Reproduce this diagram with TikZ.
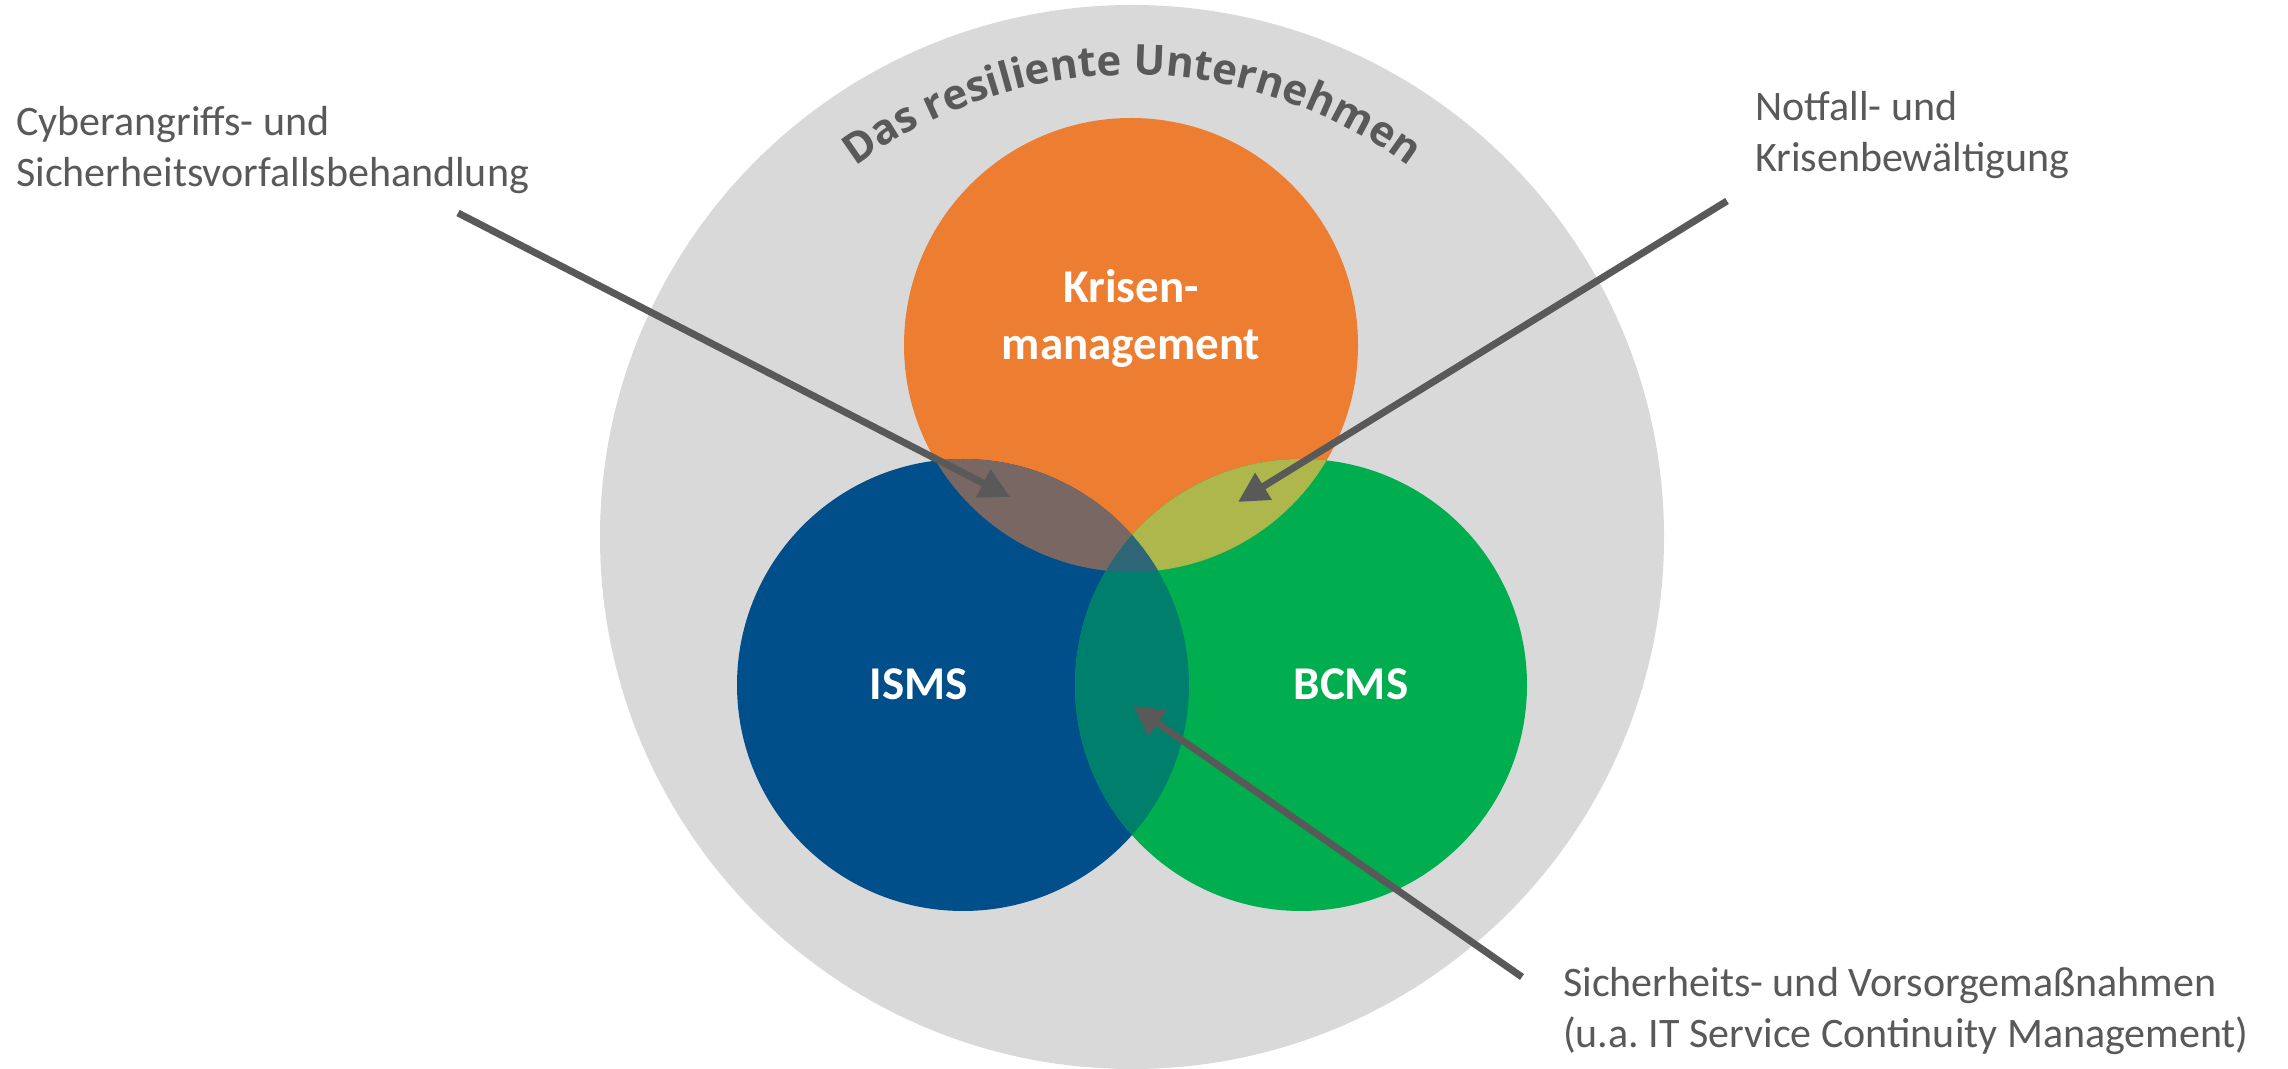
\documentclass[tikz,border=0pt]{standalone}
\usepackage{fontspec}
\setmainfont{Carlito}
\newfontfamily\titlefont{Open Sans}
\usetikzlibrary{decorations.text,arrows.meta}
\definecolor{bggray}{HTML}{D9D9D9}
\definecolor{tgray}{HTML}{595959}
\definecolor{corange}{HTML}{ED7D31}
\definecolor{cblue}{HTML}{004F8A}
\definecolor{cgreen}{HTML}{00AE4F}
\definecolor{cob}{HTML}{786762}
\definecolor{cog}{HTML}{ADB74B}
\definecolor{cbg}{HTML}{00806C}
\definecolor{cobg}{HTML}{2E6678}
\frenchspacing
\begin{document}
\begin{tikzpicture}[x=1pt,y=1pt,
  lbl/.style={anchor=base west, inner sep=0pt, text=tgray, font=\fontsize{42}{50}\selectfont},
  inlbl/.style={anchor=base, inner sep=0pt, text=white, font=\bfseries\fontsize{47}{56}\selectfont},
  arr/.style={draw=tgray, line width=7pt, -{Triangle[length=30pt,width=30pt]}}]
\useasboundingbox (0,0) rectangle (2288,1068);
\fill[white] (0,0) rectangle (2288,1068);
\coordinate (cG) at (1132,531);
\coordinate (cO) at (1131,723);
\coordinate (cB) at (963,383);
\coordinate (cN) at (1301,383);
\fill[bggray] (cG) circle (532pt);
\fill[corange] (cO) circle (227pt);
\fill[cblue] (cB) circle (226pt);
\fill[cgreen] (cN) circle (226pt);
\begin{scope}\clip (cO) circle (227pt); \fill[cob] (cB) circle (226pt);\end{scope}
\begin{scope}\clip (cO) circle (227pt); \fill[cog] (cN) circle (226pt);\end{scope}
\begin{scope}\clip (cB) circle (226pt); \fill[cbg] (cN) circle (226pt);\end{scope}
\begin{scope}\clip (cO) circle (227pt); \clip (cB) circle (226pt); \fill[cobg] (cN) circle (226pt);\end{scope}
\path[decorate, decoration={text along path, text align=center,
  text={|\color{tgray}\titlefont\bfseries\fontsize{42}{42}\selectfont|Das resiliente Unternehmen}}]
  (cG) ++(140:462pt) arc[start angle=140, end angle=40, radius=462pt];
\node[lbl] (c1) at (16,932) {Cyberangriffs- und};
\node[lbl] (c2) at (16,881) {Sicherheitsvorfallsbehandlung};
\node[lbl] (n1) at (1755,947) {Notfall- und};
\node[lbl] (n2) at (1755,896) {Krisenbewältigung};
\node[lbl] (s1) at (1563,71) {Sicherheits- und Vorsorgemaßnahmen};
\node[lbl] (s2) at (1563,21) {(u.a. IT Service Continuity Management)};
\node[inlbl] (k1) at (1131,765) {Krisen-};
\node[inlbl] (k2) at (1131,708) {management};
\node[inlbl] (is) at (919,368) {ISMS};
\node[inlbl] (bc) at (1351,368) {BCMS};
\coordinate (a1s) at (458,855); \coordinate (a1e) at (1010,571);
\coordinate (a2s) at (1727,867); \coordinate (a2e) at (1238,566);
\coordinate (a3s) at (1522,91);  \coordinate (a3e) at (1133,362);
\draw[arr] (a1s) -- (a1e);
\draw[arr] (a2s) -- (a2e);
\draw[arr] (a3s) -- (a3e);
\end{tikzpicture}
\end{document}
